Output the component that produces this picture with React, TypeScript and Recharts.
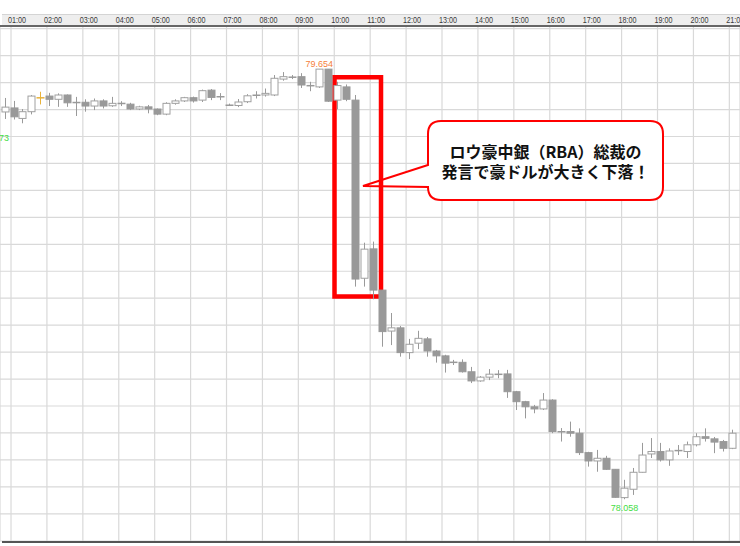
import React from 'react';
import { ComposedChart, Bar, XAxis, YAxis, CartesianGrid, ReferenceArea, ReferenceDot, Customized } from 'recharts';

// 15-minute candles, 00:45 .. 21:00
const TIMES = [
  '00:45', '01:00', '01:15', '01:30', '01:45', '02:00', '02:15', '02:30', '02:45', '03:00',
  '03:15', '03:30', '03:45', '04:00', '04:15', '04:30', '04:45', '05:00', '05:15', '05:30',
  '05:45', '06:00', '06:15', '06:30', '06:45', '07:00', '07:15', '07:30', '07:45', '08:00',
  '08:15', '08:30', '08:45', '09:00', '09:15', '09:30', '09:45', '10:00', '10:15', '10:30',
  '10:45', '11:00', '11:15', '11:30', '11:45', '12:00', '12:15', '12:30', '12:45', '13:00',
  '13:15', '13:30', '13:45', '14:00', '14:15', '14:30', '14:45', '15:00', '15:15', '15:30',
  '15:45', '16:00', '16:15', '16:30', '16:45', '17:00', '17:15', '17:30', '17:45', '18:00',
  '18:15', '18:30', '18:45', '19:00', '19:15', '19:30', '19:45', '20:00', '20:15', '20:30',
  '20:45', '21:00',
];

const OPEN = [
  79.495, 79.510, 79.471, 79.496, 79.548, 79.554, 79.542, 79.558, 79.531, 79.531,
  79.517, 79.536, 79.518, 79.527, 79.524, 79.506, 79.514, 79.506, 79.487, 79.527,
  79.536, 79.548, 79.539, 79.576, 79.552, 79.521, 79.519, 79.533, 79.559, 79.558,
  79.558, 79.617, 79.623, 79.626, 79.594, 79.588, 79.654, 79.539, 79.588, 79.539,
  78.878, 78.987, 78.834, 78.682, 78.694, 78.602, 78.637, 78.653, 78.608, 78.590,
  78.567, 78.566, 78.531, 78.497, 78.511, 78.522, 78.523, 78.457, 78.420, 78.401,
  78.393, 78.426, 78.309, 78.309, 78.303, 78.231, 78.200, 78.210, 78.169, 78.064,
  78.095, 78.158, 78.226, 78.235, 78.204, 78.239, 78.235, 78.260, 78.290, 78.282,
  78.272, 78.247,
];
const HIGH = [
  79.547, 79.536, 79.506, 79.558, 79.570, 79.566, 79.564, 79.560, 79.551, 79.542,
  79.545, 79.542, 79.551, 79.535, 79.529, 79.518, 79.521, 79.508, 79.531, 79.542,
  79.551, 79.552, 79.578, 79.580, 79.565, 79.526, 79.543, 79.561, 79.572, 79.582,
  79.632, 79.643, 79.632, 79.639, 79.607, 79.654, 79.654, 79.607, 79.597, 79.558,
  79.010, 79.014, 78.834, 78.749, 78.701, 78.653, 78.683, 78.660, 78.612, 78.594,
  78.575, 78.577, 78.549, 78.515, 78.541, 78.537, 78.538, 78.460, 78.423, 78.408,
  78.452, 78.429, 78.322, 78.346, 78.321, 78.234, 78.241, 78.219, 78.169, 78.130,
  78.174, 78.267, 78.285, 78.267, 78.247, 78.259, 78.272, 78.303, 78.321, 78.289,
  78.278, 78.316,
];
const LOW = [
  79.469, 79.467, 79.453, 79.486, 79.523, 79.517, 79.514, 79.514, 79.480, 79.496,
  79.502, 79.508, 79.514, 79.517, 79.502, 79.502, 79.490, 79.483, 79.483, 79.522,
  79.532, 79.530, 79.532, 79.539, 79.539, 79.517, 79.513, 79.528, 79.545, 79.552,
  79.554, 79.611, 79.617, 79.584, 79.572, 79.584, 79.532, 79.505, 79.535, 78.847,
  78.847, 78.800, 78.624, 78.630, 78.587, 78.578, 78.615, 78.587, 78.565, 78.528,
  78.556, 78.528, 78.489, 78.494, 78.500, 78.507, 78.434, 78.389, 78.358, 78.377,
  78.389, 78.303, 78.272, 78.290, 78.222, 78.179, 78.160, 78.167, 78.064, 78.058,
  78.074, 78.157, 78.211, 78.198, 78.182, 78.222, 78.211, 78.254, 78.272, 78.229,
  78.235, 78.244,
];
const CLOSE = [
  79.513, 79.477, 79.496, 79.554, 79.547, 79.542, 79.558, 79.529, 79.529, 79.517,
  79.536, 79.517, 79.527, 79.526, 79.506, 79.514, 79.506, 79.487, 79.527, 79.536,
  79.548, 79.536, 79.574, 79.549, 79.551, 79.519, 79.532, 79.555, 79.555, 79.564,
  79.620, 79.626, 79.625, 79.595, 79.591, 79.654, 79.535, 79.593, 79.542, 78.875,
  78.986, 78.834, 78.680, 78.694, 78.602, 78.633, 78.655, 78.608, 78.590, 78.563,
  78.565, 78.531, 78.497, 78.511, 78.522, 78.521, 78.457, 78.420, 78.401, 78.393,
  78.426, 78.309, 78.308, 78.303, 78.231, 78.200, 78.210, 78.169, 78.065, 78.099,
  78.158, 78.222, 78.235, 78.204, 78.237, 78.238, 78.260, 78.290, 78.284, 78.270,
  78.247, 78.303,
];

const HOUR_LABELS = [
  '01:00', '02:00', '03:00', '04:00', '05:00', '06:00', '07:00', '08:00', '09:00', '10:00',
  '11:00', '12:00', '13:00', '14:00', '15:00', '16:00', '17:00', '18:00', '19:00', '20:00', '21:00',
];
const GRID_PRICES = [
  77.904, 78.004, 78.104, 78.204, 78.304, 78.404, 78.504, 78.604, 78.704, 78.804,
  78.904, 79.004, 79.104, 79.204, 79.304, 79.404, 79.504, 79.604, 79.704, 79.804,
];

const HIGH_LABEL = '79.654';
const LOW_LABEL = '78.058';
const OFFSCREEN_LABEL = '79.473';
const HIGHLIGHT_TIME = '01:45';
const NOTE_LINE1 = 'ロウ豪中銀（RBA）総裁の';
const NOTE_LINE2 = '発言で豪ドルが大きく下落！';

const toMin = (s: string) => parseInt(s.slice(0, 2), 10) * 60 + parseInt(s.slice(3), 10);
const CANDLE_SHIFT = 5; // candle drawn slightly right of its start time
const HOUR_TICKS = HOUR_LABELS.map(toMin);

const data = TIMES.map((time, i) => ({
  time,
  t: toMin(time) + CANDLE_SHIFT,
  open: OPEN[i],
  high: HIGH[i],
  low: LOW[i],
  close: CLOSE[i],
  range: [LOW[i], HIGH[i]],
}));

const highIdx = HIGH.indexOf(Math.max(...HIGH));
const lowIdx = LOW.indexOf(Math.min(...LOW));

const Candle = (props: any) => {
  const { x, y, width, height, payload } = props;
  if (x == null || payload == null) return null;
  const top = Math.min(y, y + height);
  const h = Math.abs(height);
  const { open, high, low, close } = payload;
  const span = high - low;
  const yOf = (v: number) => (span > 0 ? top + ((high - v) / span) * h : top);
  const cx = Math.round(x + width / 2) + 0.5;
  const yo = yOf(open);
  const yc = yOf(close);
  const bodyTop = Math.min(yo, yc);
  const bodyH = Math.abs(yo - yc);
  const bull = close > open;
  const hl = payload.time === HIGHLIGHT_TIME;
  const wick = hl ? '#e8b23a' : '#9a9a9a';
  return (
    <g>
      <line x1={cx} x2={cx} y1={top} y2={top + h} stroke={wick} strokeWidth={1} />
      {hl || bodyH < 1.2 ? (
        <line x1={cx - 4} x2={cx + 4} y1={(yo + yc) / 2} y2={(yo + yc) / 2} stroke={hl ? wick : '#999'} strokeWidth={1.5} />
      ) : (
        <rect
          x={cx - 3.5}
          y={bodyTop}
          width={7}
          height={bodyH}
          fill={bull ? '#ffffff' : '#999999'}
          stroke={bull ? '#a0a0a0' : '#999999'}
          strokeWidth={1}
        />
      )}
    </g>
  );
};

const HourTick = (props: any) => {
  const { x, payload } = props;
  const m = payload.value;
  const label = HOUR_LABELS[HOUR_TICKS.indexOf(m)];
  return (
    <text
      x={x - 3}
      y={22.5}
      fontSize={8.5}
      fill="#3a3a3a"
      fontFamily="'Liberation Sans', Arial, sans-serif"
      textLength={18}
      lengthAdjust="spacingAndGlyphs"
    >
      {label}
    </text>
  );
};

const Decorations = () => (
  <g>
    <text x={9} y={141} textAnchor="end" fontSize={9} fill="#44dd44" fontFamily="'Liberation Sans', Arial, sans-serif">
      {OFFSCREEN_LABEL}
    </text>
    <line x1={2} x2={740} y1={542} y2={542} stroke="#555" strokeWidth={2} />
    <path
      d="M441,121 H650 Q663,121 663,134 V187 Q663,200 650,200 H441 Q428,200 428,187 V187 L363,186 L428,165 V134 Q428,121 441,121 Z"
      fill="#ffffff"
      stroke="#ff0000"
      strokeWidth={2}
    />
    <text x={545.5} y={158} textAnchor="middle" fontSize={16} fontWeight="bold" fill="#111" fontFamily="'Noto Sans CJK JP', sans-serif">
      {NOTE_LINE1}
    </text>
    <text x={545.5} y={178} textAnchor="middle" fontSize={16} fontWeight="bold" fill="#111" fontFamily="'Noto Sans CJK JP', sans-serif">
      {NOTE_LINE2}
    </text>
  </g>
);

export default function App() {
  return (
    <div style={{ position: 'absolute', left: 0, top: 0, width: 740, height: 546, background: '#fff' }}>
      <div
        style={{
          position: 'absolute',
          left: 2,
          top: 14,
          width: 738,
          height: 11,
          background: '#eeeeee',
          borderTop: '1px solid #d4d4d4',
          boxSizing: 'border-box',
        }}
      />
      <div style={{ position: 'absolute', left: 0, top: 0 }}>
        <ComposedChart width={740} height={546} data={data} margin={{ top: 14, right: 0, bottom: 5, left: 0 }}>
          <CartesianGrid stroke="#d9d9d9" strokeWidth={1.2} />
          <XAxis
            dataKey="t"
            type="number"
            domain={[41.6, 1277.8]}
            allowDataOverflow
            orientation="top"
            ticks={HOUR_TICKS}
            interval={0}
            tick={<HourTick />}
            tickLine={false}
            axisLine={{ stroke: '#666', strokeWidth: 2 }}
            height={12}
          />
          <YAxis type="number" domain={[77.903, 79.814]} allowDataOverflow ticks={GRID_PRICES} hide />
          <Bar dataKey="range" barSize={8} shape={<Candle />} isAnimationActive={false} />
          <ReferenceDot
            x={data[highIdx].t}
            y={HIGH[highIdx]}
            r={0}
            fill="none"
            stroke="none"
            label={{ value: HIGH_LABEL, position: 'top', offset: 2, fill: '#f5803a', fontSize: 9, fontFamily: "'Liberation Sans', Arial, sans-serif" }}
          />
          <ReferenceDot
            x={data[lowIdx].t}
            y={LOW[lowIdx]}
            r={0}
            fill="none"
            stroke="none"
            label={{ value: LOW_LABEL, position: 'bottom', offset: 5, fill: '#44dd44', fontSize: 9, fontFamily: "'Liberation Sans', Arial, sans-serif" }}
          />
          <ReferenceArea
            x1={600.4}
            x2={678.1}
            y1={78.81}
            y2={79.624}
            fill="none"
            fillOpacity={0}
            stroke="#ff0000"
            strokeWidth={4.5}
            ifOverflow="visible"
          />
          <Customized component={Decorations} />
        </ComposedChart>
      </div>
    </div>
  );
}
